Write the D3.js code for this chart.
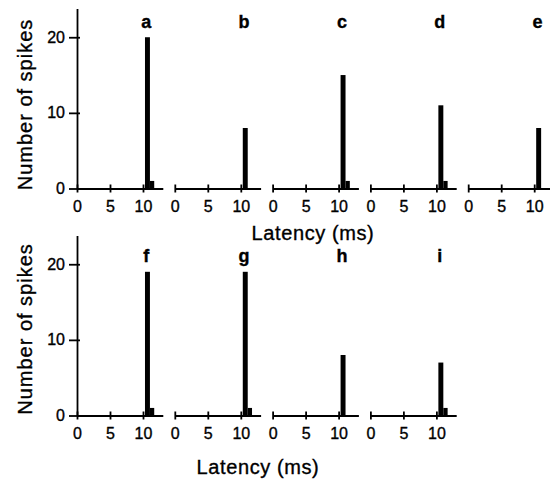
<!DOCTYPE html>
<html>
<head>
<meta charset="utf-8">
<script src="https://cdn.jsdelivr.net/npm/d3@7"></script>
<style>
  body { margin: 0; background: #fff; }
  svg { font-family: "Liberation Sans", Arial, Helvetica, sans-serif; }
  svg text { fill: #000; stroke: #000; stroke-width: 0.35px; }
  .axis path, .axis line { stroke: #000; stroke-width: 1.8; }
  .axis text { font-size: 16px; }
</style>
</head>
<body>
<svg id="chart"></svg>
<script>
// panel letters, one per histogram
const panels = ['a', 'b', 'c', 'd', 'e', 'f', 'g', 'h', 'i'];
// latency bin edges (ms)
const binEdges = [10.3, 11.05, 11.7];
// spike counts per bin, per panel
const mainCounts = [20, 8, 15, 11, 8, 19, 19, 8, 7];
const tailCounts = [1, 0, 1, 1, 0, 1, 1, 0, 1];
const xTicks = [0, 5, 10];
const yTicks = [0, 10, 20];

const config = {
    width: 550,
    height: 484,
    left: 77,
    colStep: 97.8,
    panelWidth: 85.8,
    panelHeight: 180,
    rowBase: [188.5, 415.5],
    letterY: [28, 262],
    perRow: 5
};

const svg = d3.select('#chart')
    .attr('width', config.width)
    .attr('height', config.height);

const xScale = d3.scaleLinear().domain([0, 13]).range([0, config.panelWidth]);
const yScale = d3.scaleLinear().domain([0, 23.8]).range([config.panelHeight, 0]);

panels.forEach((p, i) => {
    const row = Math.floor(i / config.perRow);
    const col = i % config.perRow;
    const top = config.rowBase[row] - config.panelHeight;
    const g = svg.append('g')
        .attr('transform', `translate(${config.left + col * config.colStep},${top})`);

    const bins = [mainCounts[i], tailCounts[i]].map((c, k) => ({x0: binEdges[k], x1: binEdges[k + 1], count: c}))
        .filter(d => d.count > 0);

    g.selectAll('.bar')
        .data(bins)
        .join('rect')
        .attr('class', 'bar')
        .attr('x', d => xScale(d.x0))
        .attr('width', d => xScale(d.x1) - xScale(d.x0))
        .attr('y', d => yScale(d.count))
        .attr('height', d => yScale(0) - yScale(d.count))
        .attr('fill', '#000');

    // x axis, ticks crossing the line
    const xAxisG = g.append('g')
        .attr('class', 'axis x-axis')
        .attr('transform', `translate(0,${yScale(0)})`)
        .call(d3.axisBottom(xScale).tickValues(xTicks).tickSize(4).tickSizeOuter(0));
    xAxisG.selectAll('.tick line').attr('y1', -4).attr('y2', 4);
    xAxisG.selectAll('.tick text').attr('y', 12);

    // y axis only on first panel of each row
    if (col === 0) {
        const yAxisG = g.append('g')
            .attr('class', 'axis y-axis')
            .call(d3.axisLeft(yScale).tickValues(yTicks).tickSize(8).tickSizeOuter(0).tickPadding(4));
        yAxisG.selectAll('.tick line').attr('x1', 3);
    }

    // panel letter
    svg.append('text')
        .attr('x', config.left + col * config.colStep + xScale(10.5))
        .attr('y', config.letterY[row])
        .attr('text-anchor', 'middle')
        .style('font-size', '18px')
        .style('font-weight', 'bold')
        .text(p);
});

// axis titles
[[313, 240], [258, 474]].forEach(([x, y]) => {
    svg.append('text')
        .attr('x', x)
        .attr('y', y)
        .attr('text-anchor', 'middle')
        .style('font-size', '20px')
        .style('letter-spacing', '0.6px')
        .text('Latency (ms)');
});

[104.5, 329].forEach(cy => {
    svg.append('text')
        .attr('transform', `translate(32,${cy}) rotate(-90)`)
        .attr('text-anchor', 'middle')
        .style('font-size', '20px')
        .style('letter-spacing', '1px')
        .text('Number of spikes');
});
</script>
</body>
</html>
